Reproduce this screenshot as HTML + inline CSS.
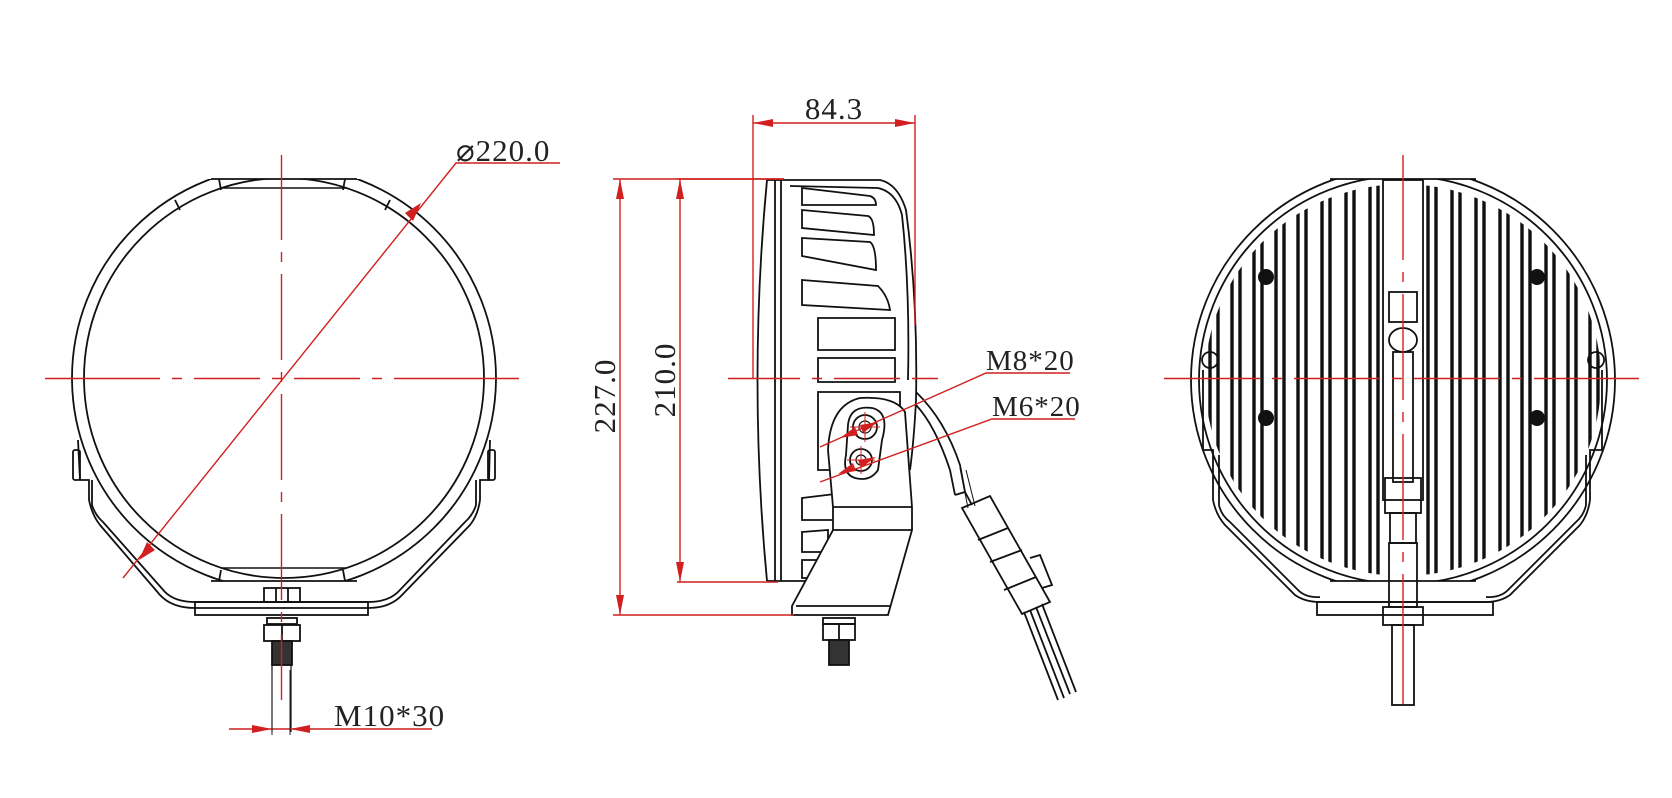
<!DOCTYPE html>
<html><head><meta charset="utf-8"><style>
html,body{margin:0;padding:0;background:#fff;}
svg{display:block;}
text{font-family:"Liberation Serif",serif;fill:#222;letter-spacing:1px;}
</style></head><body>
<svg width="1672" height="798" viewBox="0 0 1672 798" xmlns="http://www.w3.org/2000/svg">
<defs>
<clipPath id="cl"><rect x="60" y="179" width="450" height="402"/></clipPath>
<clipPath id="cr"><rect x="1170" y="179" width="470" height="402"/></clipPath>
<clipPath id="cri"><ellipse cx="1403" cy="380" rx="198" ry="196"/></clipPath>
</defs>
<g fill="none" stroke="#111" stroke-width="1.8">
<!-- LEFT VIEW -->
<g clip-path="url(#cl)">
<circle cx="284" cy="378" r="212"/>
<circle cx="284" cy="378" r="200"/>
</g>
<path d="M211,179 H357 M211,581 H357"/>
<path d="M222,188 H346 M222,568 H346" stroke-width="1.4"/>
<path d="M219,179 L221,190 M345,179 L343,190 M175,200 L180,210 M390,200 L385,210 M219,581 L221,570 M345,581 L343,570"/>
<!-- bracket -->
<path d="M78,440 L80,480 L89,480 L89,500 Q92,515 100,525 L160,595 Q172,608 195,608 L368,608 Q390,608 402,595 L470,525 Q478,515 480,500 L480,480 L489,480 L490,440"/>
<path d="M92,480 L92,505 Q95,515 103,522 L165,592 Q175,602 195,602 L368,602 Q388,602 398,592 L465,522 Q473,515 476,505 L476,480"/>
<rect x="195" y="602" width="173" height="13"/>
<rect x="73" y="450" width="7" height="30" rx="2"/>
<rect x="488" y="450" width="7" height="30" rx="2"/>
<!-- bolt -->
<rect x="264" y="588" width="36" height="14"/>
<line x1="276" y1="588" x2="276" y2="602"/><line x1="288" y1="588" x2="288" y2="602"/>
<rect x="267" y="618" width="30" height="6"/>
<rect x="264" y="625" width="36" height="16"/>
<line x1="282" y1="625" x2="282" y2="641"/>
<rect x="272" y="641" width="20" height="24" fill="#333"/>
<line x1="272" y1="665" x2="272" y2="732" stroke-width="1.2"/>
<line x1="291" y1="665" x2="291" y2="732" stroke-width="1.2"/>

<!-- MIDDLE VIEW -->
<path d="M767,180 Q748,380 767,581"/>
<path d="M775,180 L775,581 M781,180 L781,581"/>
<path d="M767,180 L880,180 Q898,184 906,210 Q918,300 916,400 Q914,440 910,470"/>
<path d="M790,186 L878,188 Q896,192 902,215 Q910,290 908,380"/>
<path d="M767,581 L820,581"/>
<!-- fins -->
<path d="M802,188 L870,196 Q876,198 876,205 L802,205 Z"/>
<path d="M802,210 L868,216 Q874,218 874,235 L802,228 Z"/>
<path d="M802,238 L870,242 Q876,246 876,270 L802,256 Z"/>
<path d="M802,280 L878,286 Q888,296 890,310 L802,305 Z"/>
<path d="M818,318 L895,318 L895,350 L818,350 Z"/>
<path d="M818,358 L895,358 L895,382 L818,382 Z"/>
<path d="M818,392 L900,392 L900,470 L818,470 Z"/>
<path d="M802,498 L835,494 L835,520 L802,520 Z"/>
<path d="M802,532 L828,530 L828,552 L802,552 Z"/>
<path d="M802,560 L818,560 L818,578 L802,578 Z"/>
<!-- bracket -->
<path d="M828,450 Q830,405 860,398 Q895,396 905,412 L912,507 L912,530 L888,615 L792,615 L792,606 L833,530 L833,507 L828,450 Z" fill="#fff"/>
<path d="M833,507 L912,507 M833,530 L912,530 M796,606 L890,606"/>
<path d="M848,425 Q850,405 872,408 Q890,412 882,440 L878,470 Q870,482 855,478 Q842,474 846,455 Z"/>
<circle cx="865" cy="427" r="12"/><circle cx="865" cy="427" r="6" stroke-width="1.2"/>
<circle cx="861" cy="460" r="11"/><circle cx="861" cy="460" r="5" stroke-width="1.2"/>
<!-- bolt -->
<rect x="823" y="618" width="32" height="6"/>
<rect x="823" y="624" width="32" height="16"/>
<line x1="839" y1="624" x2="839" y2="640"/>
<rect x="829" y="640" width="20" height="25" fill="#333"/>
<!-- cable -->
<path d="M916,392 Q945,420 960,465 L965,492"/>
<path d="M916,405 Q935,425 950,470 L955,495"/>
<path d="M955,495 L965,492 L972,505"/>
<path d="M962,508 L990,496 L1050,602 L1022,614 Z"/>
<path d="M978,540 L1008,528 M990,562 L1022,550 M1004,590 L1036,577"/>
<path d="M1030,558 L1040,555 L1052,585 L1042,588"/>
<path d="M1024,612 L1058,700 M1030,610 L1064,698 M1036,607 L1070,694 M1042,604 L1076,692"/>
<path d="M960,468 L968,508 M966,470 L975,506" stroke-width="1"/>

<!-- RIGHT VIEW -->
<g clip-path="url(#cr)">
<ellipse cx="1403" cy="380" rx="212" ry="212"/>
<ellipse cx="1403" cy="380" rx="204" ry="204"/>
</g>
<path d="M1330,179 H1476 M1330,581 H1476"/>
<g clip-path="url(#cri)">
<path d="M1210,170 V590 M1218,170 V590 M1232,170 V590 M1240,170 V590 M1254,170 V590 M1262,170 V590 M1276,170 V590 M1284,170 V590 M1298,170 V590 M1306,170 V590 M1322,170 V590 M1330,170 V590 M1346,170 V590 M1354,170 V590 M1370,170 V590 M1378,170 V590
M1428,170 V590 M1436,170 V590 M1452,170 V590 M1460,170 V590 M1476,170 V590 M1484,170 V590 M1500,170 V590 M1508,170 V590 M1522,170 V590 M1530,170 V590 M1546,170 V590 M1554,170 V590 M1568,170 V590 M1576,170 V590 M1590,170 V590 M1598,170 V590" stroke-width="3.4"/>
<path d="M1200,190 V570 M1606,190 V570" stroke-width="2"/>
</g>
<rect x="1383" y="180" width="40" height="320"/>
<rect x="1389" y="292" width="28" height="30"/>
<ellipse cx="1403" cy="340" rx="14" ry="12"/>
<rect x="1393" y="352" width="20" height="130"/>
<rect x="1385" y="478" width="36" height="35"/>
<rect x="1390" y="513" width="26" height="30"/>
<rect x="1389" y="543" width="28" height="64"/>
<rect x="1383" y="607" width="40" height="18"/>
<rect x="1392" y="625" width="22" height="80"/>
<g fill="#111" stroke="none">
<circle cx="1266" cy="277" r="8"/><circle cx="1537" cy="277" r="8"/>
<circle cx="1266" cy="418" r="8"/><circle cx="1537" cy="418" r="8"/>
</g>
<path d="M1210,368 a8,8 0 1 1 0.1,0 M1596,368 a8,8 0 1 1 0.1,0"/>
<path d="M1203,370 L1203,450 L1213,450 L1213,500 Q1216,515 1225,525 L1295,595 Q1305,602 1320,602 L1486,602 Q1500,602 1510,595 L1580,525 Q1588,515 1590,500 L1590,450 L1602,450 L1602,370"/>
<path d="M1219,455 L1219,505 Q1221,515 1230,522 L1298,590 Q1306,598 1320,597 M1586,455 L1586,505 Q1584,515 1576,522 L1508,590 Q1500,598 1486,597"/>
<rect x="1317" y="602" width="176" height="13"/>
</g>

<!-- RED DIMENSIONS -->
<g stroke="#d21f1f" fill="none" stroke-width="1.4">
<path d="M45,378.5 H160 M172,378.5 H182 M194,378.5 H260 M272,378.5 H282 M294,378.5 H360 M372,378.5 H382 M394,378.5 H519" />
<path d="M281.5,155 V240 M281.5,252 V262 M281.5,274 V360 M281.5,372 V382 M281.5,394 V480 M281.5,492 V502 M281.5,514 V600 M281.5,612 V622 M281.5,634 V700"/>
<path d="M123,578 L456,163 H560"/>
<path d="M229,729 H432"/>
<path d="M272,670 V735 M290,670 V735" stroke="#222" stroke-width="1"/>
<path d="M753,123 H915 M753,115 V378 M915,115 V325"/>
<path d="M613,179 H784 M620,179 V615 M613,615 H794"/>
<path d="M677,179 H784 M680,179 V582 M677,582 H778"/>
<path d="M728,378.5 H800 M812,378.5 H822 M834,378.5 H900 M912,378.5 H938"/>
<path d="M820,447 L986,373 H1070"/>
<path d="M820,482 L992,419 H1075"/>
<path d="M1164,378.5 H1260 M1272,378.5 H1282 M1294,378.5 H1380 M1392,378.5 H1402 M1414,378.5 H1500 M1512,378.5 H1522 M1534,378.5 H1639"/>
<path d="M1403,155 V260 M1403,272 V282 M1403,294 V400 M1403,412 V422 M1403,434 V540 M1403,552 V562 M1403,574 V704"/>
</g>
<g fill="#d21f1f" stroke="none">
<polygon points="421,203 405,213 413,221"/>
<polygon points="139,560 155,550 147,542"/>
<polygon points="272,729 252,725 252,733"/>
<polygon points="290,729 310,725 310,733"/>
<polygon points="753,123 773,119 773,127"/>
<polygon points="915,123 895,119 895,127"/>
<polygon points="620,179 616,199 624,199"/>
<polygon points="620,615 616,595 624,595"/>
<polygon points="680,179 676,199 684,199"/>
<polygon points="680,582 676,562 684,562"/>
<polygon points="878,422 860,425 863,433"/>
<polygon points="840,438 858,435 855,427"/>
<polygon points="876,457 858,460 861,468"/>
<polygon points="838,474 856,471 853,463"/>
</g>
<g stroke="#d21f1f" stroke-width="1">
<path d="M865,412 V442 M850,427 H880 M861,446 V474 M847,460 H875"/>
</g>
<text x="456" y="161" font-size="31">⌀220.0</text>
<text x="334" y="726" font-size="31">M10*30</text>
<text x="834" y="119" font-size="31" text-anchor="middle">84.3</text>
<text x="986" y="370" font-size="29">M8*20</text>
<text x="992" y="416" font-size="29">M6*20</text>
<text transform="translate(615,396) rotate(-90)" font-size="31" text-anchor="middle">227.0</text>
<text transform="translate(675,380) rotate(-90)" font-size="31" text-anchor="middle">210.0</text>
</svg>
</body></html>
